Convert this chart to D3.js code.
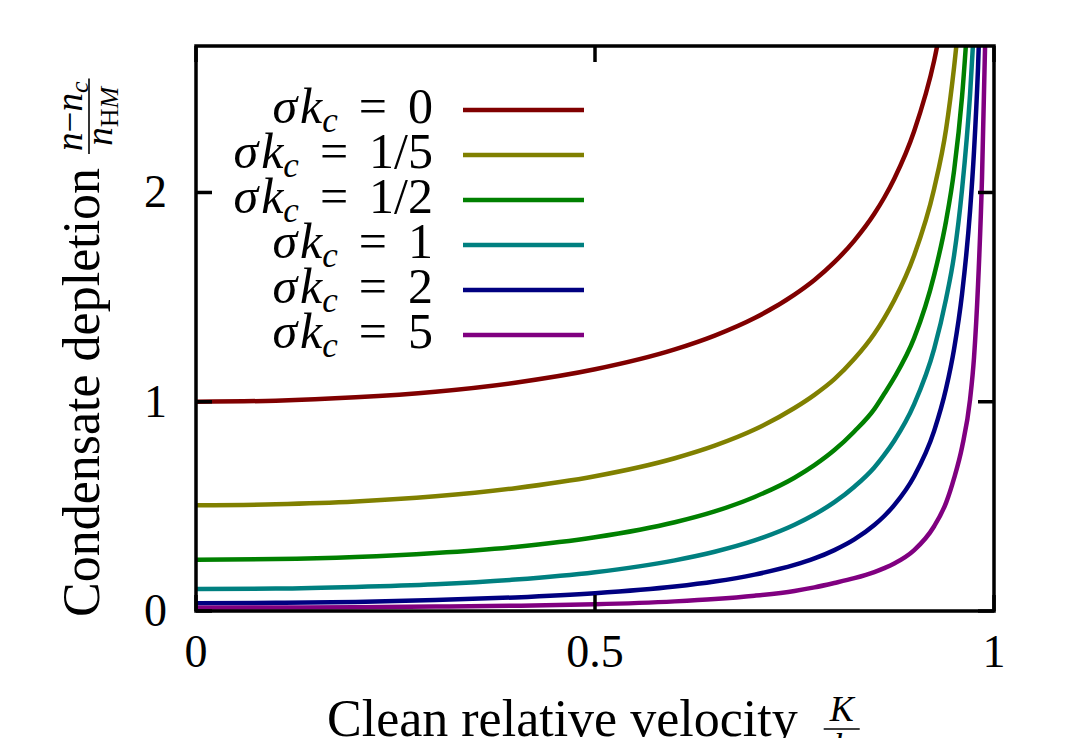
<!DOCTYPE html>
<html lang="en">

<head>
  <meta charset="UTF-8" />
  <title>Condensate depletion</title>
  <script src="https://d3js.org/d3.v7.min.js"></script>
  <style>
    body { margin: 0; background: #fff; }
    svg { display: block; }
    text { font-family: "Liberation Serif", "DejaVu Serif", serif; fill: #000; }
  </style>
</head>

<body>
  <script>
    // Clean relative velocity K/k and depletion per sigma*k_c
    const velocity = [0, 0.1, 0.2, 0.3, 0.4, 0.5, 0.6, 0.65, 0.7, 0.75, 0.775, 0.8, 0.825, 0.85, 0.8625, 0.875, 0.9, 0.925, 0.94, 0.95, 0.96, 0.97, 0.975, 0.98, 0.985, 0.99, 0.995];
    const depletionSk0 = [1.000, 1.005, 1.021, 1.048, 1.091, 1.155, 1.250, 1.316, 1.400, 1.512, 1.582, 1.667, 1.770, 1.898, 1.976, 2.066, 2.294, 2.630, 2.931, null, null, null, null, null, null, null, null];
    const depletionSk1_5 = [0.505, 0.510, 0.523, 0.548, 0.587, 0.644, 0.730, 0.790, 0.867, 0.970, 1.033, 1.108, 1.205, 1.325, 1.400, 1.485, 1.700, 2.018, 2.304, 2.600, 2.980, null, null, null, null, null, null];
    const depletionSk1_2 = [0.245, 0.248, 0.258, 0.277, 0.306, 0.352, 0.424, 0.476, 0.545, 0.637, 0.697, 0.769, 0.858, 0.965, 1.038, 1.115, 1.305, 1.605, 1.865, 2.105, 2.460, 3.000, null, null, null, null, null];
    const depletionSk1 = [0.105, 0.107, 0.115, 0.128, 0.150, 0.185, 0.242, 0.283, 0.337, 0.412, 0.461, 0.520, 0.594, 0.686, 0.746, 0.814, 0.989, 1.253, 1.493, 1.700, 2.016, 2.468, 2.795, null, null, null, null];
    const depletionSk2 = [0.037, 0.039, 0.043, 0.052, 0.065, 0.085, 0.117, 0.141, 0.174, 0.220, 0.251, 0.291, 0.342, 0.411, 0.454, 0.506, 0.644, 0.861, 1.064, 1.253, 1.516, 1.912, 2.200, 2.597, 3.177, null, null];
    const depletionSk5 = [0.016, 0.017, 0.018, 0.021, 0.025, 0.032, 0.046, 0.057, 0.073, 0.096, 0.113, 0.134, 0.157, 0.186, 0.205, 0.227, 0.291, 0.405, 0.518, 0.635, 0.784, 1.011, 1.213, 1.558, 2.073, 2.897, null];

    const seriesLabels = ['0', '1/5', '1/2', '1', '2', '5'];
    const seriesValues = [depletionSk0, depletionSk1_5, depletionSk1_2, depletionSk1, depletionSk2, depletionSk5];
    const seriesColors = ['#800000', '#808000', '#008000', '#008080', '#000080', '#800080'];

    const xTicks = [0, 0.5, 1];
    const xTickLabels = ['0', '0.5', '1'];
    const yTicks = [0, 1, 2];
    const yTickLabels = ['0', '1', '2'];

    const W = 1088, H = 738;
    const plot = { left: 196, right: 994, top: 46, bottom: 611 };

    const svg = d3.select('body').append('svg')
      .attr('width', W)
      .attr('height', H);

    const x = d3.scaleLinear().domain([0, 1]).range([plot.left, plot.right]);
    const y = d3.scaleLinear().domain([0, 2.7]).range([plot.bottom, plot.top]);

    svg.append('clipPath').attr('id', 'plot-clip')
      .append('rect')
      .attr('x', plot.left).attr('y', plot.top)
      .attr('width', plot.right - plot.left)
      .attr('height', plot.bottom - plot.top);

    const series = seriesLabels.map((label, i) => ({
      label,
      color: seriesColors[i],
      points: velocity.map((v, j) => [v, seriesValues[i][j]])
    }));

    const line = d3.line()
      .defined(d => d[1] != null)
      .x(d => x(d[0]))
      .y(d => y(d[1]))
      .curve(d3.curveMonotoneX);

    // Curves
    svg.append('g')
      .attr('clip-path', 'url(#plot-clip)')
      .selectAll('path')
      .data(series)
      .enter().append('path')
      .attr('d', d => line(d.points))
      .attr('fill', 'none')
      .attr('stroke', d => d.color)
      .attr('stroke-width', 4.5);

    // Legend
    const legend = svg.append('g')
      .selectAll('g')
      .data(series)
      .enter().append('g')
      .attr('transform', (d, i) => `translate(0,${110 + 45 * i})`);

    legend.append('line')
      .attr('x1', 463).attr('x2', 584)
      .attr('stroke', d => d.color)
      .attr('stroke-width', 4.5);

    const legendText = legend.append('text')
      .attr('x', 433).attr('y', 13)
      .attr('text-anchor', 'end')
      .attr('font-size', 50);
    legendText.append('tspan').attr('font-style', 'italic').text('σ');
    legendText.append('tspan').attr('font-style', 'italic').attr('dx', 3).text('k');
    legendText.append('tspan').attr('font-style', 'italic').attr('font-size', 35).attr('dy', 9).text('c');
    legendText.append('tspan').attr('dy', -9).attr('dx', 21).text('=');
    legendText.append('tspan').attr('dx', 21).text(d => d.label);

    // Frame and inward ticks on all four sides
    const axes = svg.append('g').attr('stroke', '#000').attr('stroke-width', 3.5);
    axes.append('rect')
      .attr('x', plot.left).attr('y', plot.top)
      .attr('width', plot.right - plot.left)
      .attr('height', plot.bottom - plot.top)
      .attr('fill', 'none');

    const tickLen = 16;
    xTicks.forEach(t => {
      axes.append('line').attr('x1', x(t)).attr('x2', x(t)).attr('y1', plot.bottom).attr('y2', plot.bottom - tickLen);
      axes.append('line').attr('x1', x(t)).attr('x2', x(t)).attr('y1', plot.top).attr('y2', plot.top + tickLen);
    });
    yTicks.forEach(t => {
      axes.append('line').attr('y1', y(t)).attr('y2', y(t)).attr('x1', plot.left).attr('x2', plot.left + tickLen);
      axes.append('line').attr('y1', y(t)).attr('y2', y(t)).attr('x1', plot.right).attr('x2', plot.right - tickLen);
    });

    // Tick labels
    svg.append('g').selectAll('text')
      .data(xTicks)
      .enter().append('text')
      .attr('x', d => x(d))
      .attr('y', 667)
      .attr('text-anchor', 'middle')
      .attr('font-size', 46)
      .text((d, i) => xTickLabels[i]);

    svg.append('g').selectAll('text')
      .data(yTicks)
      .enter().append('text')
      .attr('x', 167)
      .attr('y', d => y(d) + 15)
      .attr('text-anchor', 'end')
      .attr('font-size', 46)
      .text((d, i) => yTickLabels[i]);

    // X axis title with K/k fraction
    const xTitle = svg.append('text')
      .attr('x', 327).attr('y', 736)
      .attr('font-size', 52)
      .text('Clean relative velocity');
    const xFracMid = 327 + xTitle.node().getComputedTextLength() + 44;
    svg.append('text')
      .attr('x', xFracMid).attr('y', 721)
      .attr('text-anchor', 'middle')
      .attr('font-size', 36).attr('font-style', 'italic')
      .text('K');
    svg.append('line')
      .attr('x1', xFracMid - 18).attr('x2', xFracMid + 18)
      .attr('y1', 729).attr('y2', 729)
      .attr('stroke', '#000').attr('stroke-width', 1.6);
    svg.append('text')
      .attr('x', xFracMid).attr('y', 758)
      .attr('text-anchor', 'middle')
      .attr('font-size', 36).attr('font-style', 'italic')
      .text('k');

    // Y axis title, rotated, with (n - n_c) / n_HM fraction
    const yTitleG = svg.append('g').attr('transform', 'translate(99,0) rotate(-90)');
    const yTitle = yTitleG.append('text')
      .attr('x', -617).attr('y', 0)
      .attr('font-size', 52)
      .text('Condensate depletion');
    const fracStart = -617 + yTitle.node().getComputedTextLength() + 14;

    const num = yTitleG.append('text')
      .attr('y', -17)
      .attr('font-size', 37);
    num.append('tspan').attr('font-style', 'italic').text('n');
    num.append('tspan').text('−');
    num.append('tspan').attr('font-style', 'italic').text('n');
    num.append('tspan').attr('font-style', 'italic').attr('font-size', 26).attr('dy', 6).text('c');
    const numW = num.node().getComputedTextLength();

    const den = yTitleG.append('text')
      .attr('y', 13)
      .attr('font-size', 37);
    den.append('tspan').attr('font-style', 'italic').text('n');
    den.append('tspan').attr('font-size', 26).attr('dy', 6).text('H');
    den.append('tspan').attr('font-size', 26).attr('font-style', 'italic').text('M');
    const denW = den.node().getComputedTextLength();

    const fracW = Math.max(numW, denW) + 6;
    num.attr('x', fracStart + (fracW - numW) / 2);
    den.attr('x', fracStart + (fracW - denW) / 2);
    yTitleG.append('line')
      .attr('x1', fracStart).attr('x2', fracStart + fracW)
      .attr('y1', -10).attr('y2', -10)
      .attr('stroke', '#000').attr('stroke-width', 1.6);
  </script>
</body>

</html>
